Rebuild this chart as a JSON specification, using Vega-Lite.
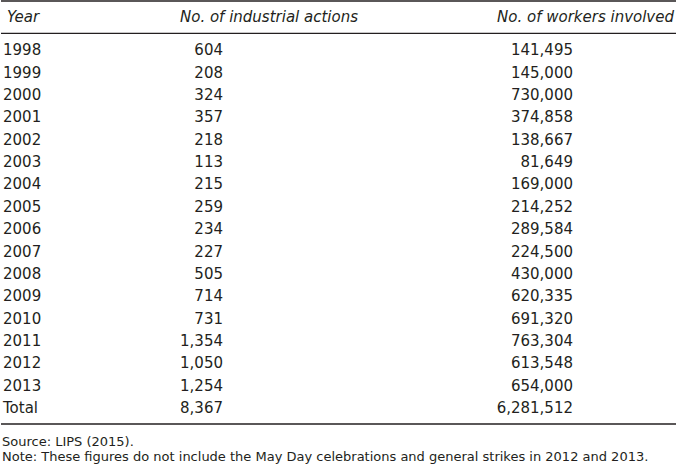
{
  "$schema": "https://vega.github.io/schema/vega-lite/v6.json",
  "width": 677,
  "height": 466,
  "autosize": {"type": "fit", "contains": "padding"},
  "padding": 0,
  "background": "white",
  "config": {"view": {"stroke": null}, "text": {"font": "DejaVu Sans", "color": "#231f20"}},
  "datasets": {
    "rows": [
      {"Year": "1998", "actions": 604, "workers": 141495},
      {"Year": "1999", "actions": 208, "workers": 145000},
      {"Year": "2000", "actions": 324, "workers": 730000},
      {"Year": "2001", "actions": 357, "workers": 374858},
      {"Year": "2002", "actions": 218, "workers": 138667},
      {"Year": "2003", "actions": 113, "workers": 81649},
      {"Year": "2004", "actions": 215, "workers": 169000},
      {"Year": "2005", "actions": 259, "workers": 214252},
      {"Year": "2006", "actions": 234, "workers": 289584},
      {"Year": "2007", "actions": 227, "workers": 224500},
      {"Year": "2008", "actions": 505, "workers": 430000},
      {"Year": "2009", "actions": 714, "workers": 620335},
      {"Year": "2010", "actions": 731, "workers": 691320},
      {"Year": "2011", "actions": 1354, "workers": 763304},
      {"Year": "2012", "actions": 1050, "workers": 613548},
      {"Year": "2013", "actions": 1254, "workers": 654000},
      {"Year": "Total", "actions": 8367, "workers": 6281512}
    ],
    "lines": [
      {"after": "Year", "label": "top"},
      {"after": "1998", "label": "header"},
      {"after": "Total", "label": "bottom"}
    ],
    "headers": [
      {"col": "Year", "label": "Year"},
      {"col": "Actions", "label": "No. of industrial actions"},
      {"col": "Workers", "label": "No. of workers involved"}
    ],
    "notes": [
      {"label": "Source: LIPS (2015)."},
      {"label": "Note: These figures do not include the May Day celebrations and general strikes in 2012 and 2013."}
    ]
  },
  "data": {"name": "rows"},
  "resolve": {"scale": {"x": "shared", "y": "shared"}},
  "layer": [
    {
      "data": {"name": "lines"},
      "transform": [{"filter": "datum.label === 'top'"}],
      "mark": {"type": "rule", "color": "#231f20", "strokeWidth": 1.3, "yOffset": -27},
      "encoding": {
        "y": {"field": "after", "type": "ordinal", "scale": {"type": "point", "domain": ["Year","1998","1999","2000","2001","2002","2003","2004","2005","2006","2007","2008","2009","2010","2011","2012","2013","Total"], "range": [28, 408], "padding": 0}, "axis": null}
      }
    },
    {
      "data": {"name": "lines"},
      "transform": [{"filter": "datum.label === 'header'"}],
      "mark": {"type": "rule", "color": "#231f20", "strokeWidth": 1.3, "yOffset": -17},
      "encoding": {"y": {"field": "after", "type": "ordinal"}}
    },
    {
      "data": {"name": "lines"},
      "transform": [{"filter": "datum.label === 'bottom'"}],
      "mark": {"type": "rule", "color": "#231f20", "strokeWidth": 1.3, "yOffset": 16},
      "encoding": {"y": {"field": "after", "type": "ordinal"}}
    },
    {
      "data": {"name": "headers"},
      "transform": [{"filter": "datum.col === 'Year'"}],
      "mark": {"type": "text", "align": "left", "baseline": "middle", "fontSize": 15, "fontStyle": "italic", "dx": 4, "yOffset": -11},
      "encoding": {
        "x": {"field": "col", "type": "nominal", "scale": {"type": "point", "domain": ["Year", "Actions", "Workers"], "range": [2, 572], "padding": 0}, "axis": null},
        "y": {"datum": "Year", "type": "ordinal"},
        "text": {"field": "label"}
      }
    },
    {
      "data": {"name": "headers"},
      "transform": [{"filter": "datum.col === 'Actions'"}],
      "mark": {"type": "text", "align": "right", "baseline": "middle", "fontSize": 15, "fontStyle": "italic", "dx": 70, "yOffset": -11},
      "encoding": {
        "x": {"field": "col", "type": "nominal"},
        "y": {"datum": "Year", "type": "ordinal"},
        "text": {"field": "label"}
      }
    },
    {
      "data": {"name": "headers"},
      "transform": [{"filter": "datum.col === 'Workers'"}],
      "mark": {"type": "text", "align": "right", "baseline": "middle", "fontSize": 15, "fontStyle": "italic", "dx": 101, "yOffset": -11},
      "encoding": {
        "x": {"field": "col", "type": "nominal"},
        "y": {"datum": "Year", "type": "ordinal"},
        "text": {"field": "label"}
      }
    },
    {
      "mark": {"type": "text", "align": "left", "baseline": "middle", "fontSize": 15},
      "encoding": {
        "x": {"datum": "Year", "type": "nominal"},
        "y": {"field": "Year", "type": "ordinal"},
        "text": {"field": "Year"}
      }
    },
    {
      "mark": {"type": "text", "align": "right", "baseline": "middle", "fontSize": 15, "dx": -65},
      "encoding": {
        "x": {"datum": "Actions", "type": "nominal"},
        "y": {"field": "Year", "type": "ordinal"},
        "text": {"field": "actions", "type": "quantitative", "format": ",d"}
      }
    },
    {
      "mark": {"type": "text", "align": "right", "baseline": "middle", "fontSize": 15},
      "encoding": {
        "x": {"datum": "Workers", "type": "nominal"},
        "y": {"field": "Year", "type": "ordinal"},
        "text": {"field": "workers", "type": "quantitative", "format": ",d"}
      }
    },
    {
      "data": {"name": "notes"},
      "transform": [{"filter": "indexof(datum.label, 'Source') === 0"}],
      "mark": {"type": "text", "align": "left", "baseline": "middle", "fontSize": 13, "dx": -1, "yOffset": 33.5},
      "encoding": {
        "x": {"datum": "Year", "type": "nominal"},
        "y": {"datum": "Total", "type": "ordinal"},
        "text": {"field": "label"}
      }
    },
    {
      "data": {"name": "notes"},
      "transform": [{"filter": "indexof(datum.label, 'Note') === 0"}],
      "mark": {"type": "text", "align": "left", "baseline": "middle", "fontSize": 13, "dx": -1, "yOffset": 49},
      "encoding": {
        "x": {"datum": "Year", "type": "nominal"},
        "y": {"datum": "Total", "type": "ordinal"},
        "text": {"field": "label"}
      }
    }
  ]
}
